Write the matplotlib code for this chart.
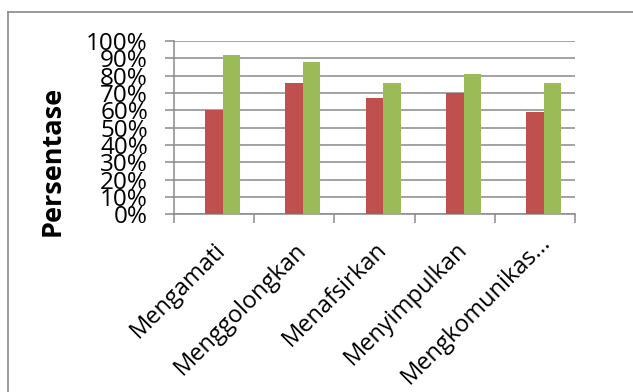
import matplotlib.pyplot as plt
import matplotlib.transforms as mtransforms
import numpy as np
from matplotlib.lines import Line2D

plt.rcParams.update({
    "figure.facecolor": "white",
    "axes.facecolor": "white",
    "font.family": "Open Sans",
})

categories = ["Mengamati", "Menggolongkan", "Menafsirkan", "Menyimpulkan", "Mengkomunikas..."]
series_red = [60, 76, 67, 70, 59]
series_green = [92, 88, 76, 81, 76]
yticks = [0, 10, 20, 30, 40, 50, 60, 70, 80, 90, 100]

grid_col = "#8a8a8a"

fig = plt.figure(figsize=(6.33, 3.92), dpi=100)
ax = fig.add_axes([0.2744, 0.4533, 0.6345, 0.4421])

x = np.arange(len(categories))
w = 0.218
ax.bar(x, series_red, w, color="#C0504D", zorder=3)
ax.bar(x + w, series_green, w, color="#9BBB59", zorder=3)

ax.set_xlim(-0.5, len(categories) - 0.5)
ax.set_ylim(0, 100)
ax.set_yticks(yticks)
ax.set_yticklabels([f"{v}%" for v in yticks], fontsize=17.5)
ax.yaxis.grid(True, color=grid_col, linewidth=1.1, zorder=0)
ax.set_axisbelow(True)

# category boundary ticks on x, labels at category centres
ax.set_xticks(np.arange(len(categories) + 1) - 0.5)
ax.set_xticklabels([])
ax.set_xticks(x, minor=True)
ax.set_xticklabels(categories, minor=True, rotation=45, ha="right", va="top",
                   rotation_mode="anchor", fontsize=17)
ax.tick_params(axis="x", which="major", length=6.5, width=1.1, color=grid_col, direction="out")
ax.tick_params(axis="x", which="minor", length=0, pad=17)
ax.tick_params(axis="y", length=6.5, width=1.1, color=grid_col, pad=12)

# the truncated last label sits a little higher in the original
last = ax.get_xticklabels(minor=True)[-1]
last.set_transform(last.get_transform()
                   + mtransforms.ScaledTranslation(0.03, 0.08, fig.dpi_scale_trans))

for s in ["top", "right"]:
    ax.spines[s].set_visible(False)
for s in ["left", "bottom"]:
    ax.spines[s].set_color(grid_col)
    ax.spines[s].set_linewidth(1.1)

fig.text(0.083, 0.59, "Persentase", rotation=90, fontsize=19.5, fontweight="bold",
         ha="center", va="center")

# outer chart border (top and left visible)
fig.add_artist(Line2D([8 / 633, 1], [1 - 11.7 / 392, 1 - 11.7 / 392], color=grid_col, lw=1.2))
fig.add_artist(Line2D([8 / 633, 8 / 633], [0, 1 - 11.7 / 392], color=grid_col, lw=1.2))

plt.savefig("out.png", dpi=100, facecolor="white")
plt.close()
